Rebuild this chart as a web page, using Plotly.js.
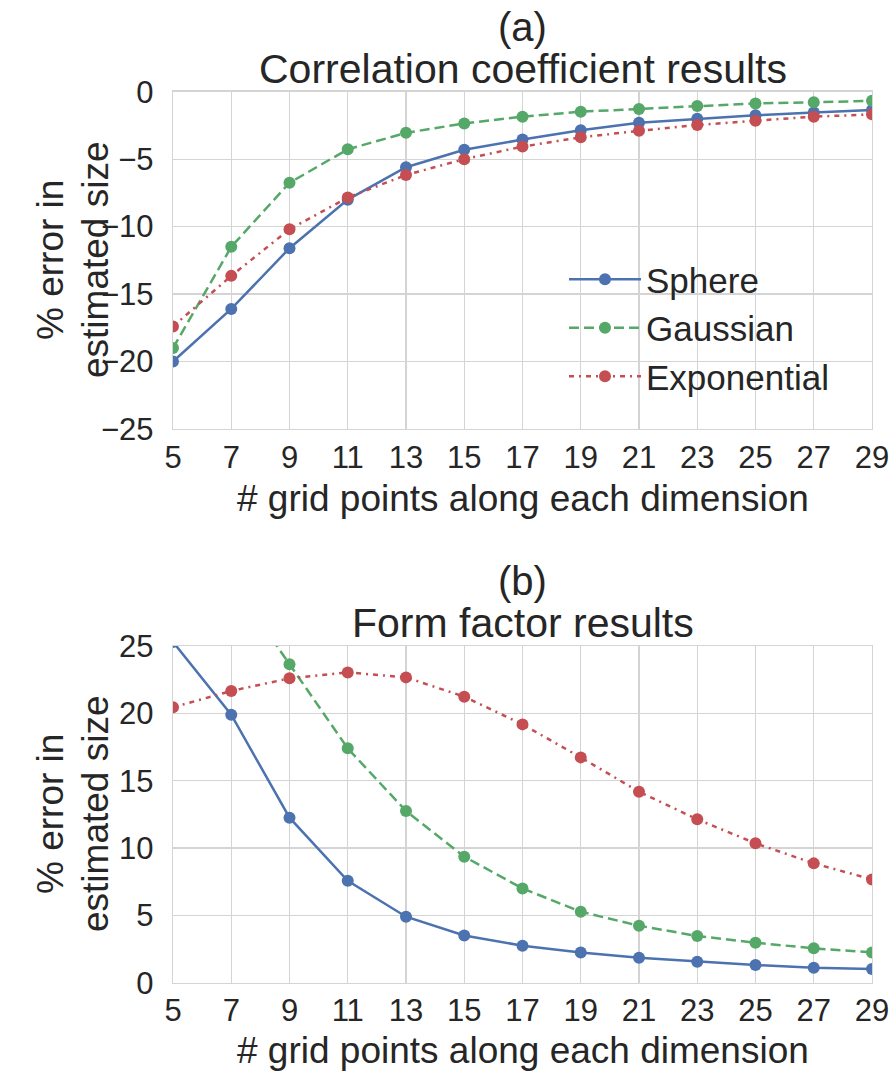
<!DOCTYPE html>
<html>
<head>
<meta charset="utf-8">
<script src="https://cdn.plot.ly/plotly-3.0.1.min.js"></script>
<style>html,body{margin:0;padding:0;background:#fff;}#chart{width:894px;height:1072px;}</style>
</head>
<body>
<div id="chart"></div>
<script>
// x: grid points along each dimension
const gridPoints = [5, 7, 9, 11, 13, 15, 17, 19, 21, 23, 25, 27, 29];

// (a) Correlation coefficient results (% error in estimated size)
const corrSphere      = [-20.0, -16.1, -11.6, -8.0, -5.6, -4.3, -3.55, -2.85, -2.3, -2.0, -1.75, -1.55, -1.35];
const corrGaussian    = [-19.0, -11.5, -6.75, -4.27, -3.05, -2.35, -1.85, -1.48, -1.28, -1.06, -0.87, -0.79, -0.67];
const corrExponential = [-17.4, -13.65, -10.2, -7.85, -6.17, -5.0, -4.07, -3.38, -2.9, -2.47, -2.15, -1.85, -1.68];

// (b) Form factor results (% error in estimated size)
const ffSphere      = [25.3, 19.9, 12.25, 7.57, 4.9, 3.51, 2.75, 2.25, 1.86, 1.56, 1.31, 1.11, 1.01];
const ffGaussian    = [38.0, 29.9, 23.65, 17.4, 12.75, 9.36, 7.0, 5.27, 4.23, 3.47, 2.97, 2.55, 2.25];
const ffExponential = [20.45, 21.66, 22.6, 23.04, 22.67, 21.24, 19.18, 16.73, 14.18, 12.13, 10.35, 8.86, 7.67];

const seriesNames = ["Sphere", "Gaussian", "Exponential"];
const colors = ["#4C72B0", "#55A868", "#C44E52"];
const dashes = ["solid", "10px,5px", "5px,5px,2px,5px"];

const xTicks = gridPoints;
const yTicksA = [-25, -20, -15, -10, -5, 0];
const yTicksB = [0, 5, 10, 15, 20, 25];

const panelLabels = ["(a)", "(b)"];
const panelTitles = ["Correlation coefficient results", "Form factor results"];
const xTitle = "# grid points along each dimension";
const yTitleLines = ["% error in", "estimated size"];

const FONT = '"Liberation Sans", Arial, Helvetica, sans-serif';
const TXT = '#262626';
const GRID = '#d4d4d4';

function mk(y, i, xa, ya, showleg) {
  return {
    x: gridPoints, y: y, xaxis: xa, yaxis: ya,
    type: 'scatter', mode: 'lines+markers', name: seriesNames[i],
    showlegend: showleg, legendgroup: seriesNames[i],
    line: {color: colors[i], width: 2.5, dash: dashes[i]},
    marker: {color: colors[i], size: 12},
    cliponaxis: true
  };
}

const data = [
  mk(corrSphere, 0, 'x', 'y', true),
  mk(corrGaussian, 1, 'x', 'y', true),
  mk(corrExponential, 2, 'x', 'y', true),
  mk(ffSphere, 0, 'x2', 'y2', false),
  mk(ffGaussian, 1, 'x2', 'y2', false),
  mk(ffExponential, 2, 'x2', 'y2', false)
];

const H = 1072, L = 173, PW = 699;
const py = v => 1 - v / H;
const px = v => (v - L) / PW;

function xax(anchor) {
  return {
    anchor: anchor, range: [5, 29], tickvals: xTicks, ticktext: xTicks.map(String),
    showgrid: true, gridcolor: GRID, gridwidth: 1.3, zeroline: false,
    showline: true, mirror: true, linecolor: GRID, linewidth: 1.3,
    ticks: '', ticklabelstandoff: 0,
    tickfont: {family: FONT, size: 31, color: TXT}
  };
}
function yax(domain, anchor, range, ticks) {
  return {
    anchor: anchor, domain: domain, range: range, tickvals: ticks,
    showgrid: true, gridcolor: GRID, gridwidth: 1.3, zeroline: false,
    showline: true, mirror: true, linecolor: GRID, linewidth: 1.3,
    ticks: '', ticklabelstandoff: 12,
    tickfont: {family: FONT, size: 31, color: TXT}
  };
}

function ann(text, xPx, yPx, size, angle, h) {
  const a = {text: text, xref: 'paper', yref: 'paper', x: px(xPx), y: py(yPx),
    xanchor: 'center', yanchor: 'middle', textangle: angle || 0, showarrow: false,
    font: {family: FONT, size: size, color: TXT}};
  if (h) a.height = h;
  return a;
}

const layout = {
  width: 894, height: 1072,
  margin: {l: L, r: 22, t: 0, b: 0},
  paper_bgcolor: '#ffffff', plot_bgcolor: '#ffffff',
  font: {family: FONT, color: TXT},
  xaxis: xax('y'),
  yaxis: yax([py(429), py(91.7)], 'x', [-25, 0], yTicksA),
  xaxis2: xax('y2'),
  yaxis2: yax([py(982.7), py(646)], 'x2', [0, 25], yTicksB),
  showlegend: true,
  legend: {
    x: px(564), y: py(250), xanchor: 'left', yanchor: 'top',
    bgcolor: 'rgba(0,0,0,0)', borderwidth: 0,
    itemwidth: 72, tracegroupgap: 0,
    font: {family: FONT, size: 35, color: TXT}
  },
  annotations: [
    ann(panelLabels[0], 522.5, 27, 40, 0, 46),
    ann(panelTitles[0], 522.5, 69, 41, 0, 34),
    ann(panelLabels[1], 522.5, 581, 40, 0, 46),
    ann(panelTitles[1], 522.5, 623, 41, 0, 34),
    ann(xTitle, 522.5, 498, 37),
    ann(xTitle, 522.5, 1050, 37),
    ann(yTitleLines[0], 50, 260, 37, -90),
    ann(yTitleLines[1], 95, 260, 37, -90),
    ann(yTitleLines[0], 50, 814, 37, -90),
    ann(yTitleLines[1], 95, 814, 37, -90)
  ]
};

Plotly.newPlot('chart', data, layout, {staticPlot: true, displayModeBar: false});
</script>
</body>
</html>
